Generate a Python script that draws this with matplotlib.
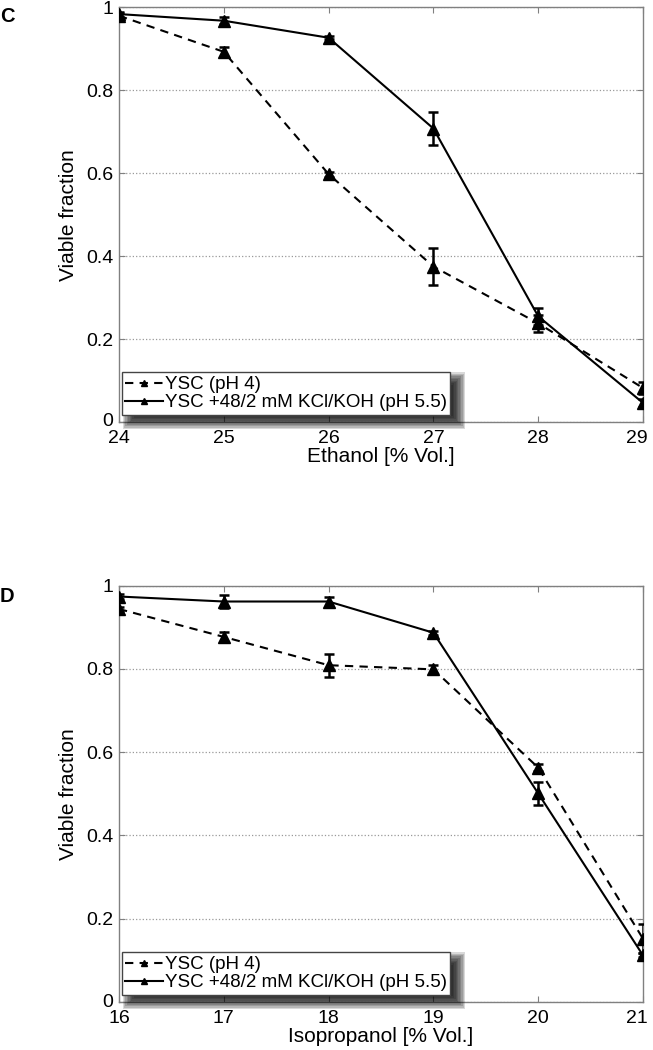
import numpy as np
import matplotlib
matplotlib.use("Agg")
import matplotlib.pyplot as plt
from matplotlib.lines import Line2D
from matplotlib.patches import Rectangle
from matplotlib.transforms import IdentityTransform, ScaledTranslation

plt.rcParams['font.family'] = ['Liberation Sans', 'DejaVu Sans']

# Panel C: ethanol
eth_x = [24, 25, 26, 27, 28, 29]
eth_ph4 = [0.980, 0.893, 0.598, 0.375, 0.238, 0.082]
eth_ph4_err = [0.006, 0.012, 0.006, 0.045, 0.020, 0.015]
eth_kcl = [0.984, 0.968, 0.927, 0.708, 0.255, 0.046]
eth_kcl_err = [0.006, 0.008, 0.004, 0.039, 0.020, 0.010]

# Panel D: isopropanol
iso_x = [16, 17, 18, 19, 20, 21]
iso_ph4 = [0.944, 0.877, 0.809, 0.799, 0.563, 0.152]
iso_ph4_err = [0.005, 0.012, 0.028, 0.010, 0.008, 0.035]
iso_kcl = [0.974, 0.962, 0.962, 0.887, 0.501, 0.112]
iso_kcl_err = [0.005, 0.015, 0.012, 0.005, 0.027, 0.005]

series_labels = ['YSC (pH 4)', 'YSC +48/2 mM KCl/KOH (pH 5.5)']
y_ticks = [0, 0.2, 0.4, 0.6, 0.8, 1]
y_ticklabels = ['0', '0.2', '0.4', '0.6', '0.8', '1']

DASH = (0, (4, 3))
SPINE = '#808080'

fig = plt.figure(figsize=(6.53, 10.5), dpi=100, facecolor='white')
ax_c = fig.add_axes([0.1822, 0.5981, 0.8025, 0.3948])
ax_d = fig.add_axes([0.1822, 0.0457, 0.8025, 0.3965])


def shift(label, dx, dy):
    label.set_transform(label.get_transform() +
                        ScaledTranslation(dx / 100, dy / 100, fig.dpi_scale_trans))


def draw_panel(ax, x, y1, e1, y2, e2, xlabel, letter, letter_y):
    for y, e, ls in [(y1, e1, DASH), (y2, e2, '-')]:
        ax.errorbar(x, y, yerr=e, fmt='none', ecolor='black', capsize=3.5,
                    elinewidth=1.8, capthick=1.8, zorder=3)
        ax.plot(x, y, color='black', linestyle=ls, linewidth=1.5,
                marker='^', markersize=8, zorder=4)
    ax.set_xlim(x[0], x[-1])
    ax.set_ylim(0, 1)
    ax.set_xticks(x)
    ax.set_yticks(y_ticks)
    ax.set_yticklabels(y_ticklabels)
    ax.yaxis.grid(True, linestyle=':', color='#999999', linewidth=0.9)
    ax.set_axisbelow(True)
    ax.tick_params(direction='in', top=True, right=True, length=4,
                   color=SPINE, labelsize=14)
    ax.tick_params(axis='x', pad=6)
    ax.tick_params(axis='y', pad=4)
    for s in ax.spines.values():
        s.set_color(SPINE)
        s.set_linewidth(1.0)
    # keep last x tick label inside the figure, lift the 0 a bit
    shift(ax.get_xticklabels()[-1], -6, 0)
    shift(ax.get_yticklabels()[0], 0, 2)
    ax.set_xlabel(xlabel, fontsize=15, labelpad=0)
    ax.set_ylabel('Viable fraction', fontsize=15, labelpad=6)
    handles = [
        Line2D([], [], color='black', linestyle=DASH, linewidth=1.5,
               marker='^', markersize=5),
        Line2D([], [], color='black', linestyle='-', linewidth=1.5,
               marker='^', markersize=5),
    ]
    leg = ax.legend(handles, series_labels, loc='lower left',
                    bbox_to_anchor=(0.005, 0.017), borderaxespad=0,
                    fontsize=13.5, frameon=True, fancybox=False,
                    borderpad=0.2, handlelength=2.0, handletextpad=0.1,
                    labelspacing=0.05)
    leg.get_frame().set_edgecolor('#444444')
    leg.get_frame().set_linewidth(1.0)
    leg.get_frame().set_alpha(1)
    leg.set_zorder(6)
    fig.text(0.0, letter_y, letter, fontsize=14.5, fontweight='bold',
             va='baseline', ha='left')
    return leg


leg_c = draw_panel(ax_c, eth_x, eth_ph4, eth_ph4_err, eth_kcl, eth_kcl_err,
                   'Ethanol [% Vol.]', 'C', 1 - 22 / 1050)
leg_d = draw_panel(ax_d, iso_x, iso_ph4, iso_ph4_err, iso_kcl, iso_kcl_err,
                   'Isopropanol [% Vol.]', 'D', 1 - 602 / 1050)

# soft drop shadow behind each legend box
fig.canvas.draw()
renderer = fig.canvas.get_renderer()
for ax, leg in [(ax_c, leg_c), (ax_d, leg_d)]:
    bb = leg.get_frame().get_window_extent(renderer)
    dx, dy = 8, -7
    n = 10
    for i in range(n):
        r = 7 - i * 1.4
        ax.add_patch(Rectangle((bb.x0 + dx - r, bb.y0 + dy - r),
                               bb.width + 2 * r, bb.height + 2 * r,
                               transform=IdentityTransform(), facecolor='black',
                               edgecolor='none', alpha=0.15, zorder=5,
                               clip_on=False))

fig.savefig('out.png', dpi=100, facecolor='white')
